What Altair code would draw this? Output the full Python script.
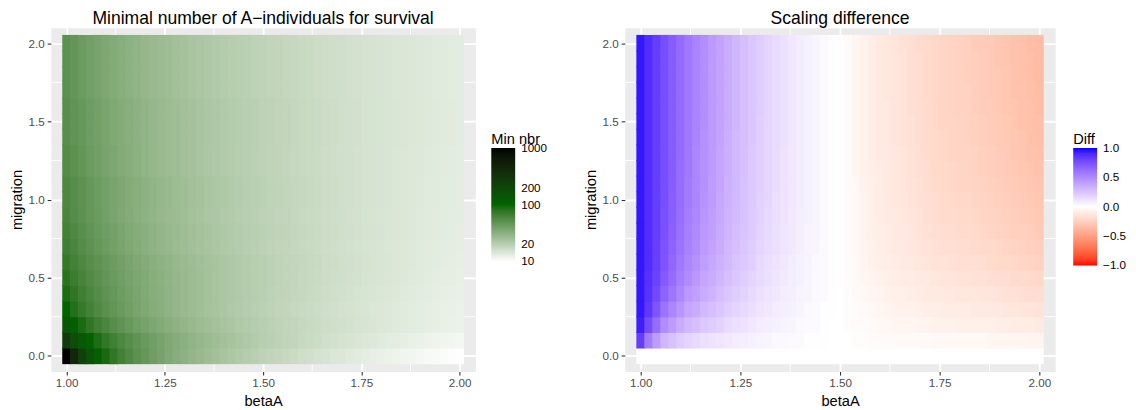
import altair as alt
import pandas as pd

FONT = "Liberation Sans"

# ---------------- grid (categories) ----------------
beta_a = [1.00, 1.02, 1.04, 1.06, 1.08, 1.10, 1.12, 1.14, 1.16, 1.18, 1.20,
          1.22, 1.24, 1.26, 1.28, 1.30, 1.32, 1.34, 1.36, 1.38, 1.40,
          1.42, 1.44, 1.46, 1.48, 1.50, 1.52, 1.54, 1.56, 1.58, 1.60,
          1.62, 1.64, 1.66, 1.68, 1.70, 1.72, 1.74, 1.76, 1.78, 1.80,
          1.82, 1.84, 1.86, 1.88, 1.90, 1.92, 1.94, 1.96, 1.98, 2.00]
migration = [0.0, 0.1, 0.2, 0.3, 0.4, 0.5, 0.6, 0.7, 0.8, 0.9, 1.0,
             1.1, 1.2, 1.3, 1.4, 1.5, 1.6, 1.7, 1.8, 1.9, 2.0]

# ---------------- left panel: minimal number of A-individuals ----------------
nbr_m00 = [1000, 451, 226, 151, 114, 91, 76, 65.3, 57.3, 51, 46,
           41.9, 38.5, 35.6, 33.1, 31, 29.1, 27.5, 26, 24.7, 23.5,
           22.4, 21.5, 20.6, 19.8, 19, 18.3, 17.7, 17.1, 16.5, 16,
           15.5, 15.1, 14.6, 14.2, 13.9, 13.5, 13.2, 12.8, 12.5, 12.3,
           12.0, 11.7, 11.5, 11.2, 11, 10.8, 10.6, 10.4, 10.2, 10]
nbr_m01 = [260, 173.7, 130.5, 104.6, 87.4, 75, 65.8, 58.6, 52.8, 48.1, 44.2,
           40.9, 38, 35.6, 33.4, 31.5, 29.8, 28.3, 26.9, 25.7, 24.6,
           23.6, 22.6, 21.8, 21, 20.2, 19.5, 18.9, 18.3, 17.8, 17.2,
           16.7, 16.3, 15.8, 15.4, 15, 14.7, 14.3, 14, 13.7, 13.4,
           13.1, 12.8, 12.6, 12.3, 12.1, 11.8, 11.6, 11.4, 11.2, 11]
nbr_m02 = [140.1, 109.7, 90.3, 76.8, 67, 59.5, 53.5, 48.7, 44.7, 41.4, 38.6,
           36.1, 34, 32.1, 30.4, 28.9, 27.6, 26.4, 25.3, 24.3, 23.4,
           22.6, 21.8, 21.1, 20.5, 19.8, 19.3, 18.7, 18.2, 17.8, 17.3,
           16.9, 16.5, 16.2, 15.8, 15.5, 15.2, 14.9, 14.6, 14.3, 14,
           13.8, 13.5, 13.3, 13.1, 12.9, 12.7, 12.5, 12.3, 12.1, 12]
nbr_m03 = [100, 83.9, 72.3, 63.7, 57, 51.6, 47.2, 43.5, 40.4, 37.8, 35.5,
           33.5, 31.7, 30.1, 28.7, 27.4, 26.2, 25.2, 24.2, 23.4, 22.6,
           21.8, 21.1, 20.5, 19.9, 19.3, 18.8, 18.3, 17.9, 17.4, 17,
           16.6, 16.3, 15.9, 15.6, 15.3, 15, 14.7, 14.5, 14.2, 14,
           13.7, 13.5, 13.3, 13.1, 12.9, 12.7, 12.5, 12.3, 12.2, 12]
nbr_m04 = [88, 75.9, 66.8, 59.7, 54, 49.4, 45.6, 42.3, 39.5, 37.1, 34.9,
           33.1, 31.4, 29.9, 28.6, 27.4, 26.3, 25.2, 24.3, 23.5, 22.7,
           22, 21.3, 20.7, 20.1, 19.5, 19, 18.5, 18.1, 17.7, 17.3,
           16.9, 16.5, 16.2, 15.8, 15.5, 15.2, 14.9, 14.7, 14.4, 14.2,
           13.9, 13.7, 13.5, 13.3, 13.1, 12.9, 12.7, 12.5, 12.4, 12.2]
nbr_m05 = [79, 69.5, 62.1, 56.2, 51.4, 47.4, 44, 41, 38.5, 36.3, 34.3,
           32.6, 31.1, 29.7, 28.4, 27.2, 26.2, 25.2, 24.3, 23.5, 22.8,
           22.1, 21.4, 20.8, 20.2, 19.7, 19.2, 18.7, 18.3, 17.8, 17.4,
           17.1, 16.7, 16.4, 16, 15.7, 15.4, 15.2, 14.9, 14.6, 14.4,
           14.2, 13.9, 13.7, 13.5, 13.3, 13.1, 12.9, 12.7, 12.6, 12.4]
nbr_m06 = [72, 64.3, 58.2, 53.2, 49, 45.5, 42.4, 39.8, 37.5, 35.5, 33.7,
           32, 30.6, 29.3, 28.1, 27, 26, 25.1, 24.2, 23.4, 22.7,
           22, 21.4, 20.8, 20.2, 19.7, 19.2, 18.8, 18.3, 17.9, 17.5,
           17.1, 16.8, 16.4, 16.1, 15.8, 15.5, 15.3, 15, 14.7, 14.5,
           14.3, 14, 13.8, 13.6, 13.4, 13.2, 13, 12.8, 12.7, 12.5]
nbr_m07 = [67, 60, 54.4, 49.8, 46, 42.7, 40, 37.6, 35.5, 33.6, 31.9,
           30.5, 29.1, 27.9, 26.8, 25.8, 24.9, 24.1, 23.3, 22.6, 21.9,
           21.3, 20.7, 20.2, 19.7, 19.2, 18.7, 18.3, 17.9, 17.5, 17.2,
           16.8, 16.5, 16.2, 15.9, 15.6, 15.4, 15.1, 14.9, 14.6, 14.4,
           14.2, 14, 13.8, 13.6, 13.4, 13.2, 13.1, 12.9, 12.8, 12.6]
nbr_m08 = [63, 57.1, 52.2, 48.2, 44.7, 41.8, 39.3, 37, 35.1, 33.3, 31.8,
           30.4, 29.1, 27.9, 26.9, 25.9, 25, 24.2, 23.4, 22.7, 22.1,
           21.5, 20.9, 20.3, 19.8, 19.4, 18.9, 18.5, 18.1, 17.7, 17.3,
           17, 16.7, 16.4, 16.1, 15.8, 15.5, 15.3, 15, 14.8, 14.6,
           14.3, 14.1, 13.9, 13.7, 13.5, 13.4, 13.2, 13, 12.9, 12.7]
nbr_m09 = [60, 54.4, 49.9, 46.1, 42.9, 40.1, 37.7, 35.6, 33.8, 32.1, 30.7,
           29.3, 28.1, 27.1, 26.1, 25.2, 24.3, 23.6, 22.8, 22.2, 21.6,
           21, 20.4, 19.9, 19.5, 19, 18.6, 18.2, 17.8, 17.5, 17.1,
           16.8, 16.5, 16.2, 15.9, 15.7, 15.4, 15.2, 14.9, 14.7, 14.5,
           14.3, 14.1, 13.9, 13.7, 13.5, 13.4, 13.2, 13.1, 12.9, 12.8]
nbr_m10 = [58, 53.1, 49, 45.5, 42.5, 39.9, 37.7, 35.7, 33.9, 32.3, 30.9,
           29.6, 28.4, 27.3, 26.4, 25.5, 24.6, 23.9, 23.1, 22.5, 21.8,
           21.3, 20.7, 20.2, 19.7, 19.3, 18.8, 18.4, 18, 17.7, 17.3,
           17, 16.7, 16.4, 16.1, 15.8, 15.6, 15.3, 15.1, 14.8, 14.6,
           14.4, 14.2, 14, 13.8, 13.6, 13.4, 13.3, 13.1, 13, 12.8]
nbr_m12 = [55, 50.4, 46.6, 43.3, 40.6, 38.2, 36.1, 34.2, 32.5, 31.1, 29.7,
           28.5, 27.4, 26.4, 25.5, 24.7, 23.9, 23.2, 22.5, 21.9, 21.3,
           20.8, 20.3, 19.8, 19.3, 18.9, 18.5, 18.1, 17.8, 17.4, 17.1,
           16.8, 16.5, 16.2, 16, 15.7, 15.5, 15.2, 15, 14.8, 14.6,
           14.4, 14.2, 14, 13.8, 13.7, 13.5, 13.3, 13.2, 13, 12.9]
nbr_m15 = [52.5, 48.5, 45.1, 42.2, 39.7, 37.4, 35.5, 33.8, 32.2, 30.8, 29.6,
           28.4, 27.4, 26.4, 25.5, 24.7, 23.9, 23.2, 22.6, 22, 21.4,
           20.9, 20.4, 19.9, 19.5, 19, 18.6, 18.3, 17.9, 17.6, 17.2,
           16.9, 16.6, 16.4, 16.1, 15.8, 15.6, 15.4, 15.1, 14.9, 14.7,
           14.5, 14.3, 14.1, 13.9, 13.8, 13.6, 13.5, 13.3, 13.2, 13]
nbr_m20 = [50, 46.2, 43.1, 40.3, 38, 35.9, 34.1, 32.4, 31, 29.7, 28.5,
           27.4, 26.5, 25.5, 24.7, 24, 23.3, 22.6, 22, 21.4, 20.9,
           20.4, 19.9, 19.5, 19, 18.7, 18.3, 17.9, 17.6, 17.3, 17,
           16.7, 16.4, 16.1, 15.9, 15.7, 15.4, 15.2, 15, 14.8, 14.6,
           14.4, 14.2, 14.1, 13.9, 13.7, 13.6, 13.4, 13.3, 13.1, 13]
# one list per migration value (upper rows are visually identical in pairs/groups)
min_nbr_rows = [nbr_m00, nbr_m01, nbr_m02, nbr_m03, nbr_m04, nbr_m05, nbr_m06,
                nbr_m07, nbr_m08, nbr_m09, nbr_m10, nbr_m10, nbr_m12, nbr_m12,
                nbr_m15, nbr_m15, nbr_m15, nbr_m20, nbr_m20, nbr_m20, nbr_m20]

# ---------------- right panel: scaling difference ----------------
diff_m00 = [0, 0, 0, 0, 0, 0, 0, 0, 0, 0, 0, 0, 0, 0, 0, 0, 0,
            0, 0, 0, 0, 0, 0, 0, 0, 0, 0, 0, 0, 0, 0, 0, 0, 0,
            0, 0, 0, 0, 0, 0, 0, 0, 0, 0, 0, 0, 0, 0, 0, 0, 0]
diff_m01 = [0.83, 0.56, 0.42, 0.31, 0.26, 0.21, 0.18, 0.16, 0.13, 0.12, 0.11,
            0.09, 0.08, 0.07, 0.06, 0.05, 0.04, 0.03, 0.03, 0.02, 0.02,
            0.01, 0.01, 0.01, 0, 0, 0, -0.01, -0.01, -0.02, -0.02,
            -0.02, -0.03, -0.03, -0.03, -0.03, -0.03, -0.04, -0.04, -0.04, -0.04,
            -0.04, -0.04, -0.04, -0.05, -0.05, -0.05, -0.05, -0.05, -0.06, -0.06]
diff_m02 = [0.94, 0.77, 0.63, 0.49, 0.42, 0.35, 0.30, 0.27, 0.23, 0.21, 0.19,
            0.15, 0.13, 0.12, 0.10, 0.08, 0.07, 0.06, 0.05, 0.04, 0.03,
            0.02, 0.02, 0.01, 0, 0, -0.01, -0.02, -0.02, -0.03, -0.04,
            -0.04, -0.05, -0.05, -0.05, -0.06, -0.06, -0.07, -0.07, -0.07, -0.08,
            -0.08, -0.08, -0.08, -0.08, -0.09, -0.09, -0.10, -0.10, -0.10, -0.11]
diff_m03 = [0.96, 0.85, 0.73, 0.60, 0.52, 0.45, 0.38, 0.35, 0.30, 0.27, 0.24,
            0.20, 0.18, 0.16, 0.14, 0.11, 0.10, 0.08, 0.07, 0.06, 0.04,
            0.03, 0.02, 0.01, 0.01, 0, -0.01, -0.02, -0.03, -0.04, -0.05,
            -0.06, -0.07, -0.07, -0.07, -0.08, -0.09, -0.09, -0.10, -0.10, -0.10,
            -0.10, -0.11, -0.11, -0.12, -0.12, -0.13, -0.13, -0.14, -0.14, -0.15]
diff_m04 = [0.96, 0.87, 0.78, 0.67, 0.59, 0.51, 0.44, 0.40, 0.35, 0.32, 0.28,
            0.24, 0.21, 0.19, 0.16, 0.13, 0.11, 0.10, 0.08, 0.07, 0.05,
            0.04, 0.03, 0.02, 0.01, 0, -0.01, -0.03, -0.04, -0.05, -0.06,
            -0.07, -0.08, -0.08, -0.09, -0.10, -0.11, -0.11, -0.12, -0.12, -0.13,
            -0.13, -0.13, -0.14, -0.14, -0.15, -0.16, -0.16, -0.17, -0.18, -0.18]
diff_m05 = [0.96, 0.88, 0.81, 0.71, 0.63, 0.55, 0.49, 0.44, 0.38, 0.35, 0.31,
            0.27, 0.24, 0.21, 0.18, 0.15, 0.13, 0.11, 0.09, 0.07, 0.06,
            0.04, 0.03, 0.02, 0.01, 0, -0.02, -0.03, -0.05, -0.06, -0.07,
            -0.08, -0.09, -0.10, -0.10, -0.11, -0.12, -0.13, -0.14, -0.14, -0.15,
            -0.15, -0.16, -0.16, -0.17, -0.18, -0.18, -0.19, -0.19, -0.20, -0.21]
diff_m06 = [0.96, 0.89, 0.82, 0.73, 0.65, 0.58, 0.52, 0.47, 0.41, 0.37, 0.33,
            0.29, 0.25, 0.23, 0.20, 0.16, 0.14, 0.12, 0.10, 0.08, 0.06,
            0.05, 0.03, 0.02, 0.01, 0, -0.02, -0.03, -0.05, -0.07, -0.08,
            -0.09, -0.10, -0.11, -0.12, -0.13, -0.14, -0.15, -0.15, -0.16, -0.17,
            -0.17, -0.17, -0.18, -0.19, -0.20, -0.20, -0.21, -0.22, -0.23, -0.24]
diff_m07 = [0.96, 0.89, 0.82, 0.74, 0.67, 0.60, 0.54, 0.49, 0.43, 0.39, 0.35,
            0.30, 0.27, 0.24, 0.21, 0.17, 0.15, 0.13, 0.11, 0.09, 0.07,
            0.05, 0.04, 0.02, 0.01, 0, -0.02, -0.04, -0.06, -0.07, -0.09,
            -0.10, -0.11, -0.12, -0.13, -0.14, -0.15, -0.16, -0.17, -0.17, -0.18,
            -0.18, -0.19, -0.20, -0.20, -0.21, -0.22, -0.23, -0.24, -0.25, -0.26]
diff_m08 = [0.96, 0.89, 0.83, 0.75, 0.68, 0.61, 0.55, 0.50, 0.44, 0.40, 0.36,
            0.31, 0.28, 0.25, 0.22, 0.18, 0.16, 0.13, 0.11, 0.09, 0.07,
            0.05, 0.04, 0.03, 0.01, 0, -0.02, -0.04, -0.06, -0.08, -0.09,
            -0.10, -0.12, -0.12, -0.13, -0.15, -0.16, -0.17, -0.18, -0.18, -0.19,
            -0.19, -0.20, -0.21, -0.22, -0.23, -0.24, -0.25, -0.25, -0.26, -0.28]
diff_m09 = [0.96, 0.89, 0.83, 0.75, 0.69, 0.62, 0.56, 0.51, 0.45, 0.41, 0.37,
            0.32, 0.29, 0.25, 0.22, 0.19, 0.16, 0.14, 0.12, 0.09, 0.07,
            0.06, 0.04, 0.03, 0.01, 0, -0.02, -0.04, -0.06, -0.08, -0.10,
            -0.11, -0.12, -0.13, -0.14, -0.15, -0.17, -0.18, -0.19, -0.19, -0.20,
            -0.20, -0.21, -0.22, -0.23, -0.24, -0.25, -0.26, -0.27, -0.28, -0.29]
diff_m10 = [0.96, 0.89, 0.83, 0.76, 0.69, 0.63, 0.57, 0.52, 0.46, 0.42, 0.37,
            0.33, 0.29, 0.26, 0.23, 0.19, 0.17, 0.14, 0.12, 0.10, 0.08,
            0.06, 0.04, 0.03, 0.01, 0, -0.02, -0.04, -0.06, -0.08, -0.10,
            -0.11, -0.13, -0.13, -0.15, -0.16, -0.17, -0.18, -0.19, -0.20, -0.21,
            -0.21, -0.22, -0.23, -0.24, -0.25, -0.26, -0.27, -0.28, -0.29, -0.30]
diff_m11 = [0.96, 0.89, 0.83, 0.76, 0.70, 0.63, 0.57, 0.52, 0.47, 0.42, 0.38,
            0.33, 0.30, 0.26, 0.23, 0.20, 0.17, 0.15, 0.12, 0.10, 0.08,
            0.06, 0.04, 0.03, 0.01, 0, -0.02, -0.04, -0.07, -0.08, -0.10,
            -0.12, -0.13, -0.14, -0.15, -0.16, -0.18, -0.19, -0.20, -0.21, -0.22,
            -0.22, -0.23, -0.24, -0.25, -0.26, -0.27, -0.28, -0.29, -0.30, -0.31]
diff_m12 = [0.96, 0.89, 0.83, 0.76, 0.70, 0.63, 0.58, 0.52, 0.47, 0.43, 0.38,
            0.34, 0.30, 0.27, 0.23, 0.20, 0.17, 0.15, 0.12, 0.10, 0.08,
            0.06, 0.04, 0.03, 0.01, 0, -0.02, -0.05, -0.07, -0.09, -0.10,
            -0.12, -0.13, -0.14, -0.16, -0.17, -0.18, -0.20, -0.20, -0.21, -0.22,
            -0.22, -0.24, -0.25, -0.26, -0.27, -0.28, -0.29, -0.30, -0.31, -0.32]
diff_m13 = [0.96, 0.89, 0.83, 0.76, 0.70, 0.64, 0.58, 0.52, 0.47, 0.43, 0.38,
            0.34, 0.30, 0.27, 0.23, 0.20, 0.17, 0.15, 0.12, 0.10, 0.08,
            0.06, 0.04, 0.03, 0.01, 0, -0.02, -0.05, -0.07, -0.09, -0.11,
            -0.12, -0.13, -0.14, -0.16, -0.17, -0.19, -0.20, -0.21, -0.22, -0.23,
            -0.23, -0.24, -0.25, -0.26, -0.27, -0.28, -0.30, -0.31, -0.32, -0.33]
diff_m14 = [0.96, 0.89, 0.83, 0.76, 0.70, 0.64, 0.58, 0.53, 0.47, 0.43, 0.39,
            0.34, 0.30, 0.27, 0.24, 0.20, 0.17, 0.15, 0.13, 0.10, 0.08,
            0.06, 0.04, 0.03, 0.01, 0, -0.02, -0.05, -0.07, -0.09, -0.11,
            -0.12, -0.14, -0.15, -0.16, -0.18, -0.19, -0.20, -0.21, -0.22, -0.23,
            -0.23, -0.25, -0.26, -0.27, -0.28, -0.29, -0.30, -0.31, -0.33, -0.34]
diff_m15 = [0.96, 0.89, 0.83, 0.76, 0.70, 0.64, 0.58, 0.53, 0.48, 0.43, 0.39,
            0.35, 0.31, 0.27, 0.24, 0.20, 0.18, 0.15, 0.13, 0.10, 0.08,
            0.06, 0.04, 0.03, 0.01, 0, -0.02, -0.05, -0.07, -0.09, -0.11,
            -0.12, -0.14, -0.15, -0.16, -0.18, -0.19, -0.21, -0.22, -0.22, -0.23,
            -0.24, -0.25, -0.26, -0.27, -0.28, -0.29, -0.31, -0.32, -0.33, -0.34]
diff_m16 = [0.96, 0.89, 0.83, 0.76, 0.70, 0.64, 0.58, 0.53, 0.48, 0.43, 0.39,
            0.35, 0.31, 0.27, 0.24, 0.21, 0.18, 0.15, 0.13, 0.10, 0.08,
            0.06, 0.04, 0.03, 0.01, 0, -0.02, -0.05, -0.07, -0.09, -0.11,
            -0.12, -0.14, -0.15, -0.17, -0.18, -0.19, -0.21, -0.22, -0.23, -0.24,
            -0.24, -0.26, -0.27, -0.27, -0.29, -0.30, -0.31, -0.32, -0.33, -0.35]
diff_m17 = [0.96, 0.89, 0.83, 0.76, 0.70, 0.64, 0.58, 0.53, 0.48, 0.43, 0.39,
            0.35, 0.31, 0.27, 0.24, 0.21, 0.18, 0.15, 0.13, 0.10, 0.08,
            0.06, 0.04, 0.03, 0.01, 0, -0.02, -0.05, -0.07, -0.09, -0.11,
            -0.13, -0.14, -0.15, -0.17, -0.18, -0.20, -0.21, -0.22, -0.23, -0.24,
            -0.24, -0.26, -0.27, -0.28, -0.29, -0.30, -0.32, -0.32, -0.34, -0.35]
diff_m18 = [0.96, 0.89, 0.83, 0.76, 0.70, 0.64, 0.58, 0.53, 0.48, 0.43, 0.39,
            0.35, 0.31, 0.27, 0.24, 0.21, 0.18, 0.15, 0.13, 0.10, 0.08,
            0.06, 0.04, 0.03, 0.01, 0, -0.02, -0.05, -0.07, -0.09, -0.11,
            -0.13, -0.14, -0.15, -0.17, -0.18, -0.20, -0.21, -0.22, -0.23, -0.24,
            -0.25, -0.26, -0.27, -0.28, -0.29, -0.30, -0.32, -0.33, -0.34, -0.36]
diff_m19 = [0.96, 0.89, 0.83, 0.76, 0.70, 0.64, 0.58, 0.53, 0.48, 0.43, 0.39,
            0.35, 0.31, 0.27, 0.24, 0.21, 0.18, 0.15, 0.13, 0.10, 0.08,
            0.06, 0.04, 0.03, 0.01, 0, -0.02, -0.05, -0.07, -0.09, -0.11,
            -0.13, -0.14, -0.15, -0.17, -0.18, -0.20, -0.21, -0.22, -0.23, -0.24,
            -0.25, -0.26, -0.27, -0.28, -0.30, -0.31, -0.32, -0.33, -0.34, -0.36]
diff_m20 = [0.96, 0.89, 0.83, 0.76, 0.70, 0.64, 0.58, 0.53, 0.48, 0.43, 0.39,
            0.35, 0.31, 0.27, 0.24, 0.21, 0.18, 0.15, 0.13, 0.10, 0.08,
            0.06, 0.04, 0.03, 0.01, 0, -0.02, -0.05, -0.07, -0.09, -0.11,
            -0.13, -0.14, -0.16, -0.17, -0.19, -0.20, -0.21, -0.22, -0.23, -0.24,
            -0.25, -0.27, -0.27, -0.28, -0.30, -0.31, -0.32, -0.33, -0.35, -0.36]
diff_rows = [diff_m00, diff_m01, diff_m02, diff_m03, diff_m04, diff_m05, diff_m06,
             diff_m07, diff_m08, diff_m09, diff_m10, diff_m11, diff_m12, diff_m13,
             diff_m14, diff_m15, diff_m16, diff_m17, diff_m18, diff_m19, diff_m20]

# ---------------- ticks / legend breaks ----------------
x_major = [1.0, 1.25, 1.5, 1.75, 2.0]
x_minor = [1.125, 1.375, 1.625, 1.875]
y_major = [0.0, 0.5, 1.0, 1.5, 2.0]
y_minor = [0.25, 0.75, 1.25, 1.75]
nbr_breaks = [10, 20, 100, 200, 1000]
diff_breaks = [-1.0, -0.5, 0.0, 0.5, 1.0]

assert len(beta_a) == 51 and len(migration) == 21
assert all(len(r) == 51 for r in min_nbr_rows) and len(min_nbr_rows) == 21
assert all(len(r) == 51 for r in diff_rows) and len(diff_rows) == 21

# ---------------- table ----------------
records = []
for i, m in enumerate(migration):
    for j, b in enumerate(beta_a):
        records.append({"betaA": b, "migration": m,
                        "min_nbr": min_nbr_rows[i][j], "diff": diff_rows[i][j]})
df = pd.DataFrame(records)
HALF_W, HALF_H = 0.011, 0.0535  # tile half-size (slight overlap hides seams)
df["x0"] = df["betaA"] - HALF_W
df["x1"] = df["betaA"] + HALF_W
df["y0"] = df["migration"] - HALF_H
df["y1"] = df["migration"] + HALF_H


def panel(field, cscale, legend, title, width):
    xs = alt.Scale(domain=[0.96, 2.04], nice=False, zero=False)
    ys = alt.Scale(domain=[-0.1, 2.1], nice=False, zero=False)
    xa = alt.Axis(values=x_major, format=".2f", title="betaA")
    ya = alt.Axis(values=y_major, format=".1f", title="migration")
    vminor = alt.Chart(pd.DataFrame({"xm": x_minor})).mark_rule(
        color="white", strokeWidth=0.95).encode(x=alt.X("xm:Q", scale=xs, axis=xa))
    hminor = alt.Chart(pd.DataFrame({"ym": y_minor})).mark_rule(
        color="white", strokeWidth=0.95).encode(y=alt.Y("ym:Q", scale=ys, axis=ya))
    tiles = alt.Chart(df).mark_rect(strokeWidth=0).encode(
        x=alt.X("x0:Q", scale=xs, axis=xa), x2="x1:Q",
        y=alt.Y("y0:Q", scale=ys, axis=ya), y2="y1:Q",
        color=alt.Color(f"{field}:Q", scale=cscale, legend=legend),
    )
    return alt.layer(vminor, hminor, tiles).properties(
        width=width, height=345, title=title)


legend_common = dict(orient="none", direction="vertical", gradientThickness=24,
                     labelFontSize=11.7, labelColor="black", labelFont=FONT,
                     titleFontSize=14.7, titleFontWeight="normal", titleColor="black",
                     titleFont=FONT, titlePadding=1, padding=0, gradientStrokeWidth=0,
                     labelOverlap=False, labelBaseline="middle", titleBaseline="top")

left = panel(
    "min_nbr",
    alt.Scale(type="log", domain=[9.9, 100, 1010],
              range=["#FFFFFF", "#006400", "#000000"], interpolate="lab"),
    alt.Legend(title="Min nbr", legendX=442, legendY=105, gradientLength=114,
               values=nbr_breaks, format="d", labelOffset=6, **legend_common),
    "Minimal number of A\u2212individuals for survival", 426)

right = panel(
    "diff",
    alt.Scale(type="linear", domain=[-1.005, 0, 1.005],
              range=["#FF0000", "#FFFFFF", "#0000FF"], interpolate="lab"),
    alt.Legend(title="Diff", legendX=450, legendY=105, gradientLength=118,
               values=diff_breaks, format=".1f", labelOffset=6, **legend_common),
    "Scaling difference", 432)

chart = alt.hconcat(left, right, spacing=150, bounds="flush").resolve_scale(
    color="independent"
).properties(
    padding={"left": 0, "top": 0, "right": 0, "bottom": 0}
).configure_view(
    fill="#EBEBEB", stroke="transparent"
).configure_axis(
    labelFont=FONT, titleFont=FONT, labelFontSize=11.7, titleFontSize=14.7,
    labelColor="#4D4D4D", titleColor="black", titleFontWeight="normal",
    tickColor="#333333", tickSize=3.67, tickWidth=1.1, domain=False,
    grid=True, gridColor="white", gridWidth=1.9,
    labelPadding=2.9, titlePadding=3.7, labelFlush=False,
).configure_title(
    font=FONT, fontSize=17.6, fontWeight="normal", color="black",
    anchor="middle", frame="group", offset=0.01,
)

chart.save("out.html", embed_options={"renderer": "svg", "actions": False})
